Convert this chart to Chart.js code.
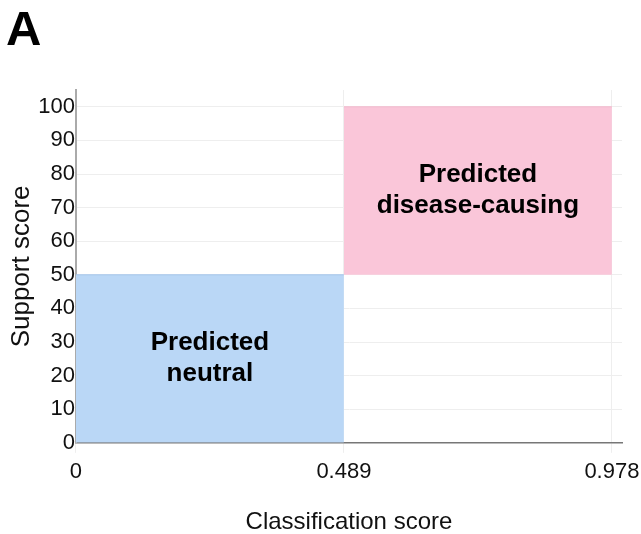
<!DOCTYPE html>
<html>
<head>
<meta charset="utf-8">
<script src="https://cdn.jsdelivr.net/npm/chart.js@4/dist/chart.umd.min.js"></script>
<style>
  body { margin: 0; background: #fff; }
  #wrap { width: 641px; height: 534px; }
</style>
</head>
<body>
<div id="wrap"><canvas id="myChart"></canvas></div>
<script>
// Region bounds
const xTicks = [0, 0.489, 0.978];
const yTicks = [0, 10, 20, 30, 40, 50, 60, 70, 80, 90, 100];

// neutral region: x 0 -> 0.489, support 0 -> 50
const neutralX = [0, 0.489];
const neutralY = [50, 50];
const neutralBase = 0;

// disease-causing region: x 0.489 -> 0.978, support 50 -> 100
const diseaseX = [0.489, 0.978];
const diseaseY = [100, 100];
const diseaseBase = 50;

const regionLabels = [
  ['Predicted', 'neutral'],
  ['Predicted', 'disease-causing']
];

const FONT = '"Liberation Sans", Arial, sans-serif';

// label inside each box, drawn at the middle of the box through the scales
const boxLabels = {
  id: 'boxLabels',
  afterDatasetsDraw(chart) {
    const ctx = chart.ctx;
    const xs = chart.scales.x, ys = chart.scales.y;
    const boxes = [
      [neutralX[0], neutralX[1], neutralBase, neutralY[0]],
      [diseaseX[0], diseaseX[1], diseaseBase, diseaseY[0]]
    ];
    ctx.save();
    ctx.fillStyle = '#000';
    ctx.font = 'bold 26px ' + FONT;
    ctx.textAlign = 'center';
    ctx.textBaseline = 'middle';
    boxes.forEach((b, i) => {
      const cx = xs.getPixelForValue((b[0] + b[1]) / 2);
      const cy = ys.getPixelForValue((b[2] + b[3]) / 2);
      const lines = regionLabels[i];
      const lh = 31;
      lines.forEach((t, j) => {
        ctx.fillText(t, cx, cy + (j - (lines.length - 1) / 2) * lh);
      });
    });
    ctx.restore();
  }
};

// big panel letter in the top left corner
const panelLabel = {
  id: 'panelLabel',
  afterDraw(chart) {
    const ctx = chart.ctx;
    ctx.save();
    ctx.fillStyle = '#000';
    ctx.font = 'bold 49px ' + FONT;
    ctx.textAlign = 'left';
    ctx.textBaseline = 'alphabetic';
    ctx.fillText('A', 6, 45);
    ctx.restore();
  }
};

const myChart = document.getElementById('myChart');

new Chart(myChart, {
  type: 'line',
  data: {
    datasets: [
      {
        data: neutralX.map((x, i) => ({x: x, y: neutralY[i]})),
        backgroundColor: 'rgba(186, 215, 246, 1)',
        borderColor: 'rgba(165, 198, 236, 1)',
        borderWidth: 1,
        pointRadius: 0,
        fill: 'origin'
      },
      {
        data: diseaseX.map((x, i) => ({x: x, y: diseaseY[i]})),
        backgroundColor: 'rgba(250, 198, 217, 1)',
        borderColor: 'rgba(242, 184, 204, 1)',
        borderWidth: 1,
        pointRadius: 0,
        fill: {value: diseaseBase}
      }
    ]
  },
  options: {
    responsive: true,
    maintainAspectRatio: false,
    animation: false,
    layout: { padding: { left: 0, right: 19, top: 90, bottom: 0 } },
    plugins: {
      legend: { display: false },
      tooltip: { enabled: false },
      title: { display: false }
    },
    scales: {
      x: {
        type: 'linear',
        min: 0,
        max: 0.9964,
        afterBuildTicks: s => { s.ticks = xTicks.map(v => ({value: v})); },
        // let the last label hang into the right margin
        afterFit: s => { s.paddingRight = 0; },
        ticks: {
          color: '#111',
          font: { family: FONT, size: 22 },
          padding: 6,
          maxRotation: 0,
          callback: v => String(v)
        },
        grid: { color: '#eeeeee', drawTicks: true, tickLength: 10 },
        border: { color: '#777', width: 1.5 },
        title: {
          display: true,
          text: 'Classification score',
          color: '#111',
          font: { family: FONT, size: 24 },
          padding: { top: 17, bottom: -3 }
        }
      },
      y: {
        min: 0,
        max: 105,
        afterBuildTicks: s => { s.ticks = yTicks.map(v => ({value: v})); },
        ticks: {
          color: '#111',
          font: { family: FONT, size: 22 },
          padding: 1
        },
        grid: { color: '#eeeeee', drawTicks: false },
        border: { color: '#aaa', width: 2 },
        title: {
          display: true,
          text: 'Support score',
          color: '#111',
          font: { family: FONT, size: 26 },
          padding: { top: 6, bottom: 0 }
        }
      }
    }
  },
  plugins: [boxLabels, panelLabel]
});
</script>
</body>
</html>
